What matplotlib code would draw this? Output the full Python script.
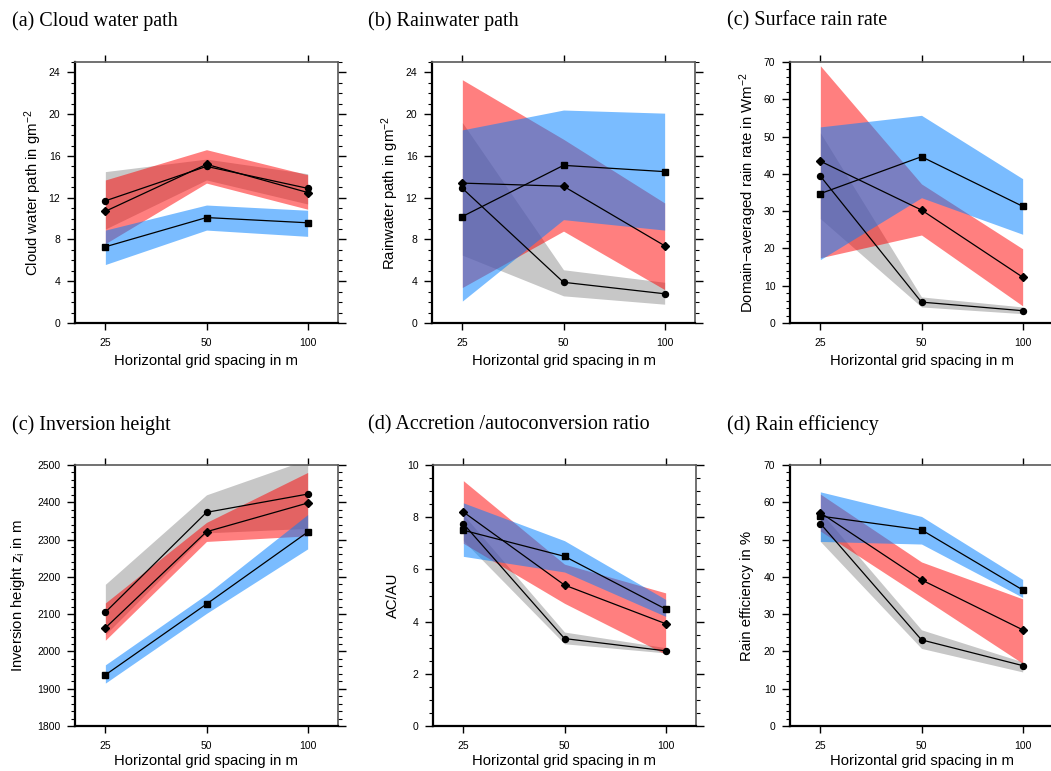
import numpy as np
import matplotlib
matplotlib.use("Agg")
import matplotlib.pyplot as plt
from matplotlib.ticker import MultipleLocator

plt.rcParams['font.family'] = ['Liberation Sans', 'DejaVu Sans']
plt.rcParams['mathtext.default'] = 'regular'

dx_labels = ["25", "50", "100"]

# (a) cloud water path
cwp_grey = [11.7, 15.0, 12.9]
cwp_grey_lo = [9.0, 13.7, 11.4]
cwp_grey_hi = [14.5, 15.7, 14.3]
cwp_red = [10.7, 15.2, 12.5]
cwp_red_lo = [7.6, 13.4, 10.9]
cwp_red_hi = [13.7, 16.6, 14.2]
cwp_blue = [7.3, 10.1, 9.6]
cwp_blue_lo = [5.6, 8.9, 8.3]
cwp_blue_hi = [8.9, 11.3, 10.8]

# (b) rainwater path
rwp_grey = [12.9, 3.9, 2.8]
rwp_grey_lo = [6.5, 2.6, 1.8]
rwp_grey_hi = [19.2, 5.1, 3.9]
rwp_red = [13.4, 13.1, 7.4]
rwp_red_lo = [3.4, 8.8, 3.2]
rwp_red_hi = [23.3, 17.6, 11.5]
rwp_blue = [10.2, 15.1, 14.5]
rwp_blue_lo = [2.1, 9.9, 8.9]
rwp_blue_hi = [18.5, 20.4, 20.1]

# (c) surface rain rate
rr_grey = [39.4, 5.6, 3.3]
rr_grey_lo = [28.0, 4.3, 2.5]
rr_grey_hi = [51.0, 7.0, 4.3]
rr_red = [43.4, 30.3, 12.3]
rr_red_lo = [17.5, 23.6, 4.6]
rr_red_hi = [69.0, 37.3, 19.9]
rr_blue = [34.7, 44.6, 31.3]
rr_blue_lo = [17.0, 33.6, 23.8]
rr_blue_hi = [52.6, 55.7, 38.7]

# inversion height
zi_grey = [2105, 2373, 2422]
zi_grey_lo = [2045, 2318, 2330]
zi_grey_hi = [2180, 2420, 2515]
zi_red = [2063, 2321, 2398]
zi_red_lo = [2030, 2295, 2310]
zi_red_hi = [2130, 2346, 2480]
zi_blue = [1937, 2127, 2320]
zi_blue_lo = [1915, 2102, 2275]
zi_blue_hi = [1964, 2153, 2367]

# accretion / autoconversion
acau_grey = [7.75, 3.35, 2.88]
acau_grey_lo = [7.1, 3.15, 2.8]
acau_grey_hi = [8.1, 3.6, 3.0]
acau_red = [8.2, 5.4, 3.92]
acau_red_lo = [7.0, 4.7, 2.75]
acau_red_hi = [9.4, 6.2, 5.1]
acau_blue = [7.5, 6.5, 4.48]
acau_blue_lo = [6.5, 5.9, 4.2]
acau_blue_hi = [8.55, 7.1, 4.85]

# rain efficiency
eff_grey = [54.3, 23.1, 16.2]
eff_grey_lo = [49.5, 20.8, 14.5]
eff_grey_hi = [57.5, 25.8, 17.2]
eff_red = [57.2, 39.2, 25.8]
eff_red_lo = [52.3, 34.6, 16.8]
eff_red_hi = [62.2, 44.0, 34.1]
eff_blue = [56.3, 52.6, 36.5]
eff_blue_lo = [49.5, 48.8, 34.5]
eff_blue_hi = [62.8, 56.2, 39.3]

W, H = 1051, 771
fig = plt.figure(figsize=(W / 100, H / 100), dpi=100)
x = np.arange(len(dx_labels))


def panel(left, top, title, tx, ty, ylabel, ylab_cx, xlab_cy, ylim, major, minor,
          grey, grey_lo, grey_hi, red, red_lo, red_hi, blue, blue_lo, blue_hi):
    ax = fig.add_axes([left / W, 1 - (top + 261) / H, 263 / W, 261 / H])
    ax.fill_between(x, grey_lo, grey_hi, color='black', alpha=0.22, lw=0)
    ax.fill_between(x, red_lo, red_hi, color='#ff0000', alpha=0.5, lw=0)
    ax.fill_between(x, blue_lo, blue_hi, color='#0080ff', alpha=0.52, lw=0)
    ax.plot(x, grey, color='k', lw=0.9, marker='o', ms=4.3)
    ax.plot(x, red, color='k', lw=0.9, marker='D', ms=3.6)
    ax.plot(x, blue, color='k', lw=0.9, marker='s', ms=4.8)
    ax.set_xlim(-0.3, 2.3)
    ax.set_ylim(*ylim)
    ax.set_xticks(x, dx_labels)
    ax.yaxis.set_major_locator(MultipleLocator(major))
    ax.yaxis.set_minor_locator(MultipleLocator(minor))
    ax.tick_params(axis='x', which='major', direction='out', top=True, bottom=True,
                   length=5, width=1, labelsize=7.5, pad=6)
    ax.tick_params(axis='y', which='major', direction='out', left=True, right=True,
                   length=5.5, width=1, labelsize=7.5, pad=5)
    ax.tick_params(axis='y', which='minor', direction='out', left=True, right=True,
                   length=3, width=0.8)
    for s in ['left', 'bottom']:
        ax.spines[s].set_linewidth(1.6)
        ax.spines[s].set_color('black')
    for s in ['top', 'right']:
        ax.spines[s].set_linewidth(1.2)
        ax.spines[s].set_color('0.35')
    ax.set_xlabel("Horizontal grid spacing in m", fontsize=10.7, va='center')
    ax.xaxis.set_label_coords(0.5, -xlab_cy / 261)
    ax.set_ylabel(ylabel, fontsize=10.7, va='center')
    ax.yaxis.set_label_coords((ylab_cx - left) / 263, 0.5)
    fig.text(tx / W, 1 - ty / H, title, family=['Liberation Serif', 'DejaVu Serif'],
             fontsize=14.5, va='center', ha='left')
    return ax


panel(75, 62, "(a) Cloud water path", 12, 21, "Cloud water path in gm$^{-2}$", 33, 38,
      (0, 25), 4, 1, cwp_grey, cwp_grey_lo, cwp_grey_hi, cwp_red, cwp_red_lo, cwp_red_hi,
      cwp_blue, cwp_blue_lo, cwp_blue_hi)
panel(432, 62, "(b) Rainwater path", 368, 21, "Rainwater path in gm$^{-2}$", 390, 38,
      (0, 25), 4, 1, rwp_grey, rwp_grey_lo, rwp_grey_hi, rwp_red, rwp_red_lo, rwp_red_hi,
      rwp_blue, rwp_blue_lo, rwp_blue_hi)
panel(790, 62, "(c) Surface rain rate", 727, 21, "Domain\u2212averaged rain rate in Wm$^{-2}$", 748, 38,
      (0, 70), 10, 2, rr_grey, rr_grey_lo, rr_grey_hi, rr_red, rr_red_lo, rr_red_hi,
      rr_blue, rr_blue_lo, rr_blue_hi)
panel(75, 465, "(c) Inversion height", 12, 425, "Inversion height z$_i$ in m", 18, 35,
      (1800, 2500), 100, 20, zi_grey, zi_grey_lo, zi_grey_hi, zi_red, zi_red_lo, zi_red_hi,
      zi_blue, zi_blue_lo, zi_blue_hi)
panel(433, 465, "(d) Accretion /autoconversion ratio", 368, 425, "AC/AU", 393, 35,
      (0, 10), 2, 0.5, acau_grey, acau_grey_lo, acau_grey_hi, acau_red, acau_red_lo, acau_red_hi,
      acau_blue, acau_blue_lo, acau_blue_hi)
panel(790, 465, "(d) Rain efficiency", 727, 425, "Rain efficiency in %", 747, 35,
      (0, 70), 10, 2, eff_grey, eff_grey_lo, eff_grey_hi, eff_red, eff_red_lo, eff_red_hi,
      eff_blue, eff_blue_lo, eff_blue_hi)

fig.savefig("out.png", dpi=100)
